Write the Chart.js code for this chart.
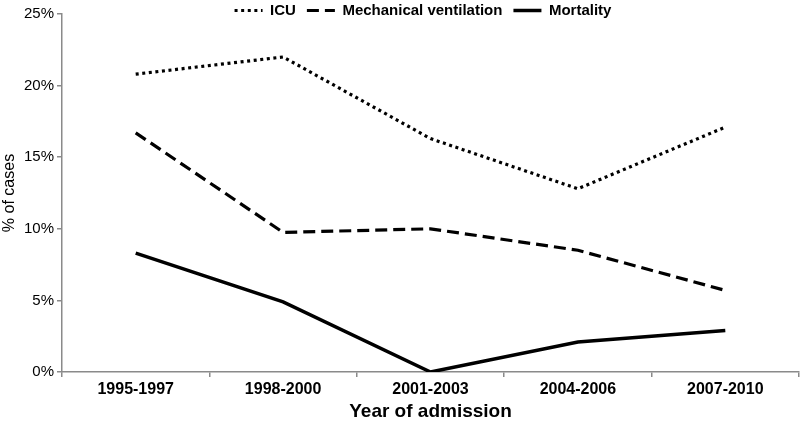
<!DOCTYPE html>
<html>
<head>
<meta charset="utf-8">
<script src="https://cdn.jsdelivr.net/npm/chart.js@4/dist/chart.umd.min.js"></script>
<style>
  html, body { margin: 0; padding: 0; background: #fff; }
  #wrap { width: 800px; height: 421px; }
</style>
</head>
<body>
<div id="wrap"><canvas id="c" width="800" height="421"></canvas></div>
<script>
const categories = ['1995-1997', '1998-2000', '2001-2003', '2004-2006', '2007-2010'];
const icu = [20.8, 22.0, 16.3, 12.8, 17.1];
const mechVent = [16.7, 9.75, 10.0, 8.5, 5.7];
const mortality = [8.3, 4.9, 0.0, 2.1, 2.9];
const yTicks = [0, 5, 10, 15, 20, 25];

const FONT = "'Liberation Sans', Arial, sans-serif";

const legendShift = {
  id: 'legendShift',
  afterLayout(chart) {
    const lg = chart.legend;
    if (!lg) return;
    lg.top = -8;
    lg.bottom = 28;
    lg.left = 23;
    lg.right = 823;
  }
};

new Chart(document.getElementById('c'), {
  type: 'line',
  data: {
    labels: categories,
    datasets: [
      { label: 'ICU', data: icu, borderColor: '#000', backgroundColor: '#000',
        borderWidth: 3.2, borderDash: [3, 3.6], borderCapStyle: 'butt', pointRadius: 0, tension: 0 },
      { label: 'Mechanical ventilation', data: mechVent, borderColor: '#000', backgroundColor: '#000',
        borderWidth: 3.2, borderDash: [12, 6], borderCapStyle: 'butt', pointRadius: 0, tension: 0 },
      { label: 'Mortality', data: mortality, borderColor: '#000', backgroundColor: '#000',
        borderWidth: 3.5, pointRadius: 0, tension: 0 }
    ]
  },
  options: {
    responsive: false,
    animation: false,
    devicePixelRatio: 1,
    layout: { padding: { top: 14, left: 0, right: 1, bottom: 0 } },
    plugins: {
      legend: {
        position: 'top',
        maxHeight: 0.001,
        labels: {
          usePointStyle: true,
          pointStyle: 'line',
          pointStyleWidth: 28,
          padding: 11,
          color: '#000',
          font: { family: FONT, size: 15, weight: 'bold' },
          generateLabels(chart) {
            const items = Chart.defaults.plugins.legend.labels.generateLabels(chart);
            items.forEach(it => {
              const ds = chart.data.datasets[it.datasetIndex];
              it.lineDash = ds.borderDash || [];
              it.lineWidth = ds.borderWidth;
              it.strokeStyle = ds.borderColor;
              it.lineCap = 'butt';
              it.pointStyle = 'line';
            });
            return items;
          }
        }
      },
      tooltip: { enabled: false }
    },
    scales: {
      x: {
        offset: true,
        border: { color: '#8a8a8a', width: 1.5 },
        grid: { display: true, drawOnChartArea: false, drawTicks: true, tickLength: 5, color: '#8a8a8a', lineWidth: 1.5, offset: true },
        ticks: { color: '#000', padding: 3, font: { family: FONT, size: 16, weight: 'bold' }, maxRotation: 0 },
        title: { display: true, text: 'Year of admission', color: '#000',
          font: { family: FONT, size: 19, weight: 'bold' }, padding: { top: 0, bottom: -2 } },
        afterFit(s) { s.height = 49; }
      },
      y: {
        min: 0, max: 25,
        border: { color: '#8a8a8a', width: 1.5 },
        grid: { display: true, drawOnChartArea: false, drawTicks: true, tickLength: 5, color: '#8a8a8a', lineWidth: 1.5 },
        afterBuildTicks(s) { s.ticks = yTicks.map(v => ({ value: v })); },
        ticks: { color: '#000', padding: 3, font: { family: FONT, size: 15 },
          callback: v => v + '%' },
        title: { display: true, text: '% of cases', color: '#000',
          font: { family: FONT, size: 16 }, padding: { top: 0, bottom: 0 } },
        afterFit(s) { s.width = 62; }
      }
    }
  },
  plugins: [legendShift]
});
</script>
</body>
</html>
